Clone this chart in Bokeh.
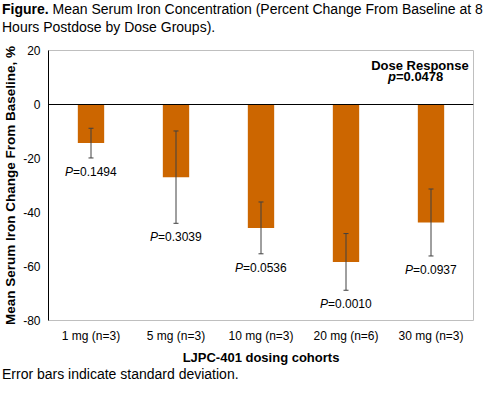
from bokeh.plotting import figure
from bokeh.models import (ColumnDataSource, FactorRange, Range1d, FixedTicker,
                          Whisker, TeeHead, Span, Label, Div)
from bokeh.layouts import column
from bokeh.core.properties import value
from bokeh.embed import file_html
from bokeh.resources import INLINE

# ---- data ----
cohorts = ["1 mg (n=3)", "5 mg (n=3)", "10 mg (n=3)", "20 mg (n=6)", "30 mg (n=3)"]
mean_change = [-14.3, -26.9, -45.7, -58.3, -43.7]
std_dev = [5.5, 17.1, 9.6, 10.5, 12.4]
p_values = ["=0.1494", "=0.3039", "=0.0536", "=0.0010", "=0.0937"]
y_ticks = [-80, -60, -40, -20, 0, 20]
y_tick_labels = {-80: "-80", -60: "-60", -40: "-40", -20: "-20", 0: "0", 20: "20"}

FONT = "Liberation Sans"
BAR = "#CC6600"

upper = [m + s for m, s in zip(mean_change, std_dev)]
lower = [m - s for m, s in zip(mean_change, std_dev)]
src = ColumnDataSource(dict(x=cohorts, top=mean_change, upper=upper, lower=lower,
                            ptxt=p_values, P=["P"] * len(cohorts)))

W = 474
TITLE_H, FOOT_H = 36, 15
FIG_H = 382 - TITLE_H - FOOT_H

p = figure(width=W, height=FIG_H, x_range=FactorRange(*cohorts), y_range=Range1d(-80, 20),
           output_backend="svg", toolbar_location=None,
           min_border_left=48, min_border_right=1, min_border_top=14, min_border_bottom=44)

p.vbar(x="x", top="top", bottom=0, width=0.31, source=src, color=BAR, line_color=None)
p.add_layout(Span(location=0, dimension="width", line_color="black", line_width=1))

wh = Whisker(base="x", upper="upper", lower="lower", source=src,
             line_color="#404040", line_width=1, level="overlay",
             upper_head=TeeHead(size=5, line_color="#404040", line_width=1),
             lower_head=TeeHead(size=5, line_color="#404040", line_width=1))
p.add_layout(wh)

# P-value labels under the error bars
p.text(x="x", y="lower", text="P", source=src, text_align="right", text_baseline="middle",
       x_offset=-18, y_offset=14, text_font=value(FONT), text_font_size="12px",
       text_font_style="italic", text_color="black")
p.text(x="x", y="lower", text="ptxt", source=src, text_align="left", text_baseline="middle",
       x_offset=-18, y_offset=14, text_font=value(FONT), text_font_size="12px",
       text_color="black")

# axes styling
p.xgrid.grid_line_color = None
p.ygrid.grid_line_color = None
p.outline_line_color = "#BFBFBF"
p.outline_line_width = 1

p.yaxis.ticker = FixedTicker(ticks=y_ticks)
p.yaxis.major_label_overrides = y_tick_labels
p.yaxis.axis_line_color = "black"
p.yaxis.major_tick_line_color = None
p.yaxis.minor_tick_line_color = None
p.yaxis.major_tick_out = 0
p.yaxis.major_tick_in = 0
p.yaxis.major_label_standoff = 8
p.yaxis.major_label_text_font = FONT
p.yaxis.major_label_text_font_size = "12px"
p.yaxis.major_label_text_color = "black"
p.yaxis.axis_label = "Mean Serum Iron Change From Baseline, %"
p.yaxis.axis_label_text_font = FONT
p.yaxis.axis_label_text_font_size = "13.5px"
p.yaxis.axis_label_text_font_style = "bold"
p.yaxis.axis_label_text_color = "black"
p.yaxis.axis_label_standoff = 2

p.xaxis.axis_line_color = None
p.xaxis.major_tick_line_color = None
p.xaxis.minor_tick_line_color = None
p.xaxis.major_tick_out = 0
p.xaxis.major_tick_in = 0
p.xaxis.major_label_standoff = 8
p.xaxis.major_label_text_font = FONT
p.xaxis.major_label_text_font_size = "12px"
p.xaxis.major_label_text_color = "black"
p.xaxis.axis_label = "LJPC-401 dosing cohorts"
p.xaxis.axis_label_text_font = FONT
p.xaxis.axis_label_text_font_size = "13px"
p.xaxis.axis_label_text_font_style = "bold"
p.xaxis.axis_label_text_color = "black"
p.xaxis.axis_label_standoff = 4

# Dose response annotation
p.add_layout(Label(x=4.37, y=14.6, text="Dose Response", text_align="center",
                   text_baseline="middle", text_font=FONT, text_font_size="13px",
                   text_font_style="bold", text_color="black"))
p.add_layout(Label(x=4.37, y=10.45, x_offset=-24, text="p", text_align="right",
                   text_baseline="middle", text_font=FONT, text_font_size="13px",
                   text_font_style="bold italic", text_color="black"))
p.add_layout(Label(x=4.37, y=10.45, x_offset=-24, text="=0.0478", text_align="left",
                   text_baseline="middle", text_font=FONT, text_font_size="13px",
                   text_font_style="bold", text_color="black"))

base_style = {"font-family": FONT, "font-size": "14px", "color": "black",
              "white-space": "nowrap", "overflow": "visible", "padding-left": "2px"}
title = Div(text="<b>Figure.</b> Mean Serum Iron Concentration (Percent Change From Baseline at 8"
                 "<br>Hours Postdose by Dose Groups).",
            width=W, height=TITLE_H, margin=0,
            styles=dict(base_style, **{"line-height": "18px"}))
footer = Div(text="Error bars indicate standard deviation.",
             width=W, height=FOOT_H, margin=0,
             styles=dict(base_style, **{"line-height": "15px"}))

layout = column(title, p, footer, spacing=0)
open("out.html", "w").write(file_html(layout, INLINE))
